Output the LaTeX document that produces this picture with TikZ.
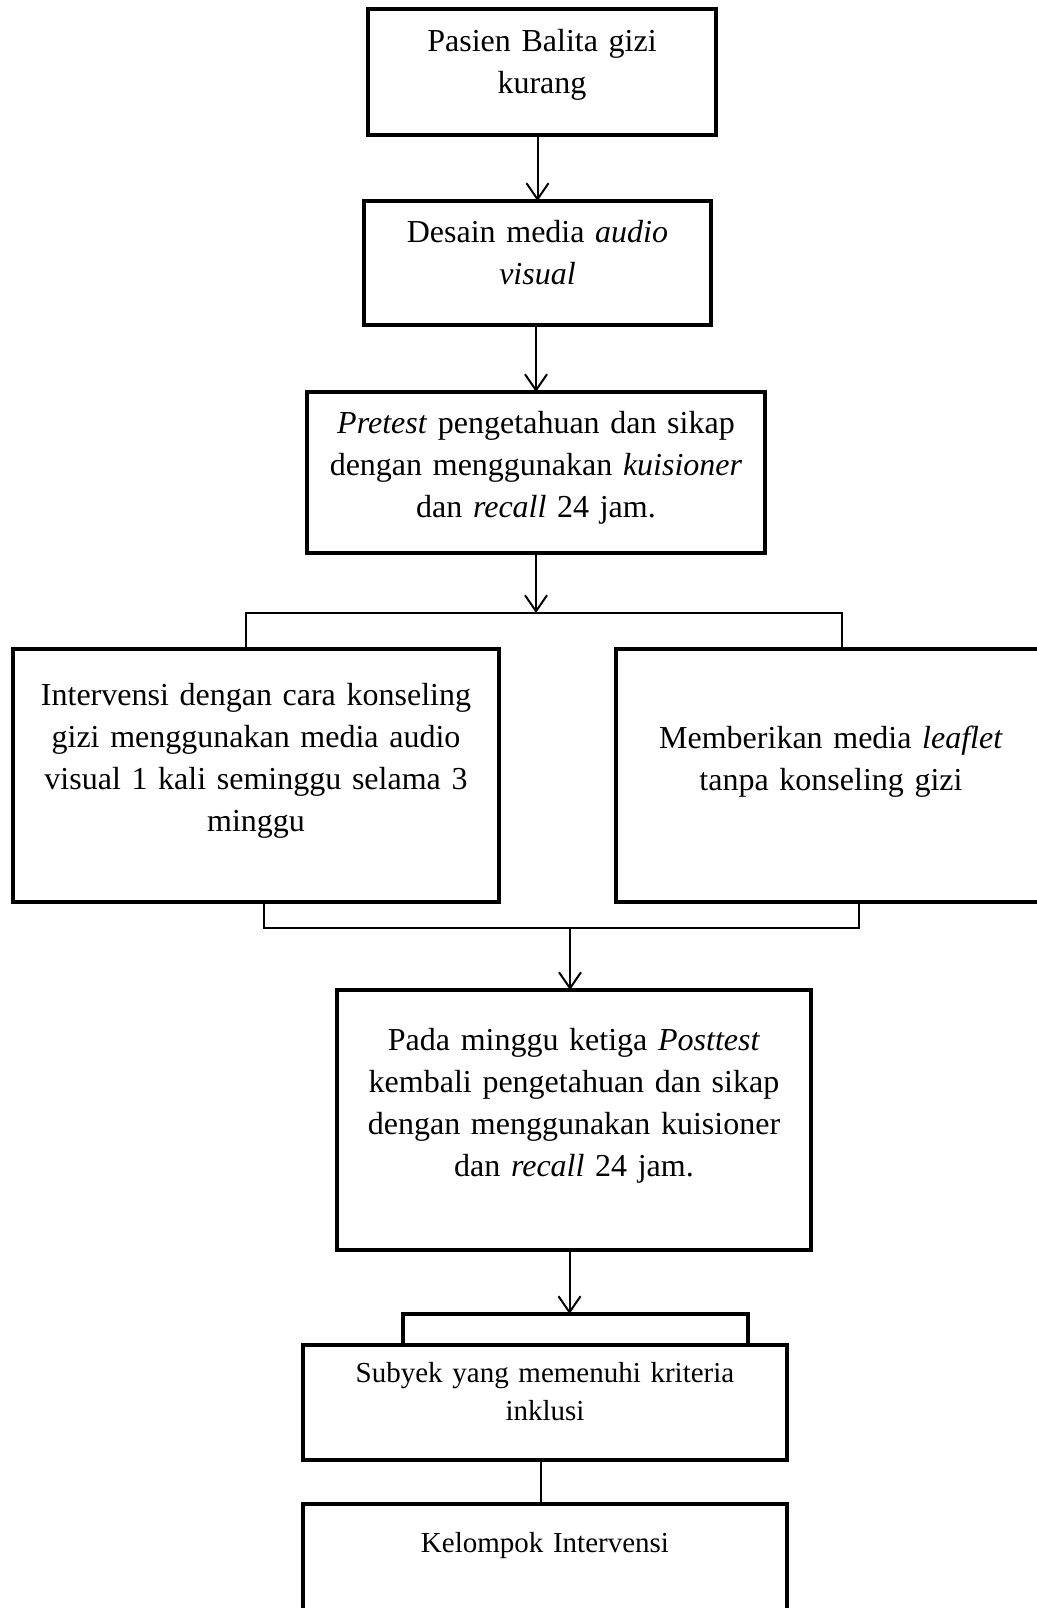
\documentclass[tikz,border=0pt]{standalone}
\usepackage{fontspec}
\setmainfont{Liberation Serif}
\usetikzlibrary{arrows.meta, positioning}

\begin{document}
\begin{tikzpicture}[x=1pt, y=-1pt, >={Straight Barb[length=16pt, width=22pt]},
    kotak/.style={draw, line width=4.5pt, outer sep=0pt, inner sep=0pt},
    teks/.style={align=center, anchor=base, inner sep=0pt, font=\fontsize{32}{42}\selectfont},
    tekskecil/.style={teks, font=\fontsize{29}{38}\selectfont},
    garis/.style={line width=2pt},
    panah/.style={garis, ->}]
    \useasboundingbox (0,0) rectangle (1036,1608);

    % kotak alur
    \node[kotak, minimum width=348pt, minimum height=126pt] (pasien) at (542,72) {};
    \node[kotak, minimum width=347pt, minimum height=124pt] (desain) at (537.5,263) {};
    \node[kotak, minimum width=458pt, minimum height=161pt] (pretest) at (536,472.5) {};
    \node[kotak, minimum width=486pt, minimum height=253pt] (intervensi) at (256,775.5) {};
    \node[kotak, minimum width=430pt, minimum height=253pt] (leaflet) at (831,775.5) {};
    \node[kotak, minimum width=474pt, minimum height=260pt] (posttest) at (574,1120) {};
    \node[kotak, minimum width=345pt, minimum height=31pt] (tab) at (575.5,1329.5) {};
    \node[kotak, minimum width=484pt, minimum height=115pt] (subyek) at (545,1402.5) {};
    \node[kotak, minimum width=484pt, minimum height=146pt] (kelompok) at (545,1577) {};

    % teks
    \node[teks, text width=330pt] (pasienT) at (pasien.center |- 0,52) {Pasien Balita gizi\\kurang};
    \node[teks, text width=330pt] (desainT) at (desain.center |- 0,242) {Desain media \textit{audio}\\\textit{visual}};
    \node[teks, text width=440pt] (pretestT) at (pretest.center |- 0,433)
        {\textit{Pretest} pengetahuan dan sikap\\dengan menggunakan \textit{kuisioner}\\dan \textit{recall} 24 jam.};
    \node[teks, text width=470pt] (intervensiT) at (intervensi.center |- 0,705)
        {Intervensi dengan cara konseling\\gizi menggunakan media audio\\visual 1 kali seminggu selama 3\\minggu};
    \node[teks, text width=410pt] (leafletT) at (leaflet.center |- 0,748)
        {Memberikan media \textit{leaflet}\\tanpa konseling gizi};
    \node[teks, text width=456pt] (posttestT) at (posttest.center |- 0,1050)
        {Pada minggu ketiga \textit{Posttest}\\kembali pengetahuan dan sikap\\dengan menggunakan kuisioner\\dan \textit{recall} 24 jam.};
    \node[tekskecil, text width=466pt] (subyekT) at (subyek.center |- 0,1382)
        {Subyek yang memenuhi kriteria\\inklusi};
    \node[tekskecil, text width=466pt] (kelompokT) at (kelompok.center |- 0,1552) {Kelompok Intervensi};

    % titik cabang
    \coordinate (cabang) at (536,613);
    \coordinate (kiri1) at (246,613);
    \coordinate (kanan1) at (842,613);
    \coordinate (kiri2) at (264,928);
    \coordinate (kanan2) at (859,928);
    \coordinate (gabung) at (570,928);

    % penghubung
    \draw[panah] (desain.north |- pasien.south) -- (desain.north);
    \draw[panah] (pretest.north |- desain.south) -- (pretest.north);
    \draw[panah] (pretest.south) -- (cabang);
    \draw[garis] (intervensi.north -| kiri1) -- (kiri1) -- (kanan1) -- (leaflet.north -| kanan1);
    \draw[garis] (intervensi.south -| kiri2) -- (kiri2) -- (kanan2) -- (leaflet.south -| kanan2);
    \draw[panah] (gabung) -- (posttest.north -| gabung);
    \draw[panah] ([xshift=-6pt]tab.north |- posttest.south) -- ([xshift=-6pt]tab.north);
    \draw[garis] ([xshift=-4pt]subyek.south) -- ([xshift=-4pt]kelompok.north);
\end{tikzpicture}
\end{document}
